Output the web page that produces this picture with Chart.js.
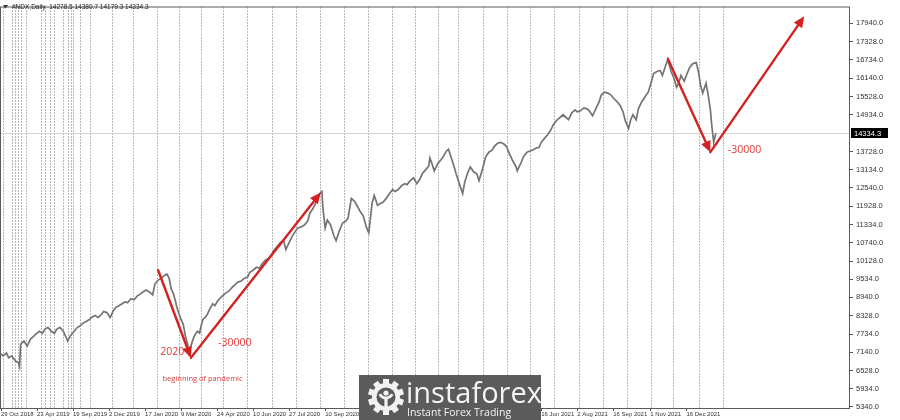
<!DOCTYPE html>
<html>
<head>
<meta charset="utf-8">
<script src="https://cdn.jsdelivr.net/npm/chart.js@4.4.0/dist/chart.umd.min.js"></script>
<style>
  html, body { margin: 0; padding: 0; background: #fff; }
  #wrap { width: 900px; height: 420px; }
</style>
</head>
<body>
<div id="wrap"><canvas id="ndxChart"></canvas></div>
<script>
// #NDX daily, values (bar index / close)
const bars = [0,2,5,7,10,13,16,17,18,21,24,27,29,32,35,38,40,43,46,49,51,54,57,60,61,64,67,70,72,75,78,81,83,86,89,92,94,97,100,103,105,108,111,114,116,119,122,125,128,130,133,136,139,141,144,147,150,152,154,156,158,160,161,163,165,167,169,171,172,174,176,178,180,182,183,185,187,189,191,193,194,196,198,201,204,206,209,212,215,217,220,223,226,228,231,234,237,239,242,245,248,250,253,256,259,261,264,267,270,272,275,278,281,283,286,289,292,294,295,297,299,302,305,307,310,313,316,318,321,324,327,329,332,335,337,339,340,342,345,348,350,353,356,359,361,364,367,370,372,375,378,381,384,386,389,392,393,395,397,400,403,405,408,410,412,415,417,420,423,425,428,430,433,436,438,441,444,447,450,452,455,458,461,463,466,469,472,473,476,479,482,484,487,490,493,495,498,501,504,506,509,512,515,517,520,523,526,528,531,534,537,539,542,545,548,550,553,556,559,561,564,567,570,572,575,577,579,582,584,587,590,593,595,598,601,604,606,609,611,614,617,619,621,623,626,628,631,634,637,639,641,643,646,648,650,651,653,655];
const closes = [7083,7019,7116,6954,7019,6857,6793,6664,7407,7504,7342,7568,7633,7730,7827,7763,7891,7956,7827,7763,7891,7956,7827,7601,7504,7698,7827,7956,7988,8085,8150,8214,8279,8343,8279,8376,8473,8441,8279,8505,8602,8667,8731,8796,8764,8893,8861,8990,9054,9119,9183,9119,9022,9378,9507,9571,9668,9701,9571,9216,9054,8796,8634,8409,8214,8053,7665,7407,7116,7342,7568,7730,7827,7763,7956,8214,8279,8376,8538,8667,8731,8667,8796,8925,9022,9087,9151,9280,9378,9442,9474,9571,9604,9765,9830,9927,9895,10024,10153,10218,10347,10476,10606,10735,10799,10508,10735,10961,11122,11219,11252,11316,11445,11704,11865,12092,12350,12415,11865,11219,11478,11316,10961,10799,11122,11381,11445,11542,12189,12092,11898,11769,11607,11219,11058,11704,12027,12285,11962,12027,12059,12189,12350,12479,12415,12479,12609,12673,12641,12770,12867,12673,12835,12996,13126,13255,13513,13319,13093,13319,13449,13546,13739,13804,13578,13255,12996,12673,12350,12738,13061,13222,13061,12996,12770,13126,13546,13707,13772,13901,13998,14030,13966,13901,13642,13416,13222,13093,13319,13578,13707,13739,13772,13836,13869,14030,14159,14289,14450,14612,14741,14838,14935,14870,14773,15000,15096,15032,15064,15161,15129,15064,14903,15129,15355,15581,15678,15646,15581,15484,15387,15258,15032,14741,14483,14773,14935,14773,15129,15355,15516,15678,15904,16292,16357,16389,16227,16550,16744,16357,16098,15840,15969,16227,16033,16227,16486,16615,16647,16357,15904,15646,15969,15581,15096,14676,14030,14334];
const lastPrice = 14334.3;

const timeTickBars = [0,33,66,99,132,165,198,231,264,297,495,528,561,595,628];
const timeLabels = ['29 Oct 2018','23 Apr 2019','19 Sep 2019','2 Dec 2019','17 Jan 2020','9 Mar 2020','24 Apr 2020','10 Jun 2020','27 Jul 2020','10 Sep 2020','16 Jun 2021','2 Aug 2021','16 Sep 2021','1 Nov 2021','16 Dec 2021'];
const gridBars = [2,10,13,16,18,23,37,40,45,49,57,61,64,66,72,82,102,121,143,163,183,203,225,248,270,292,314,336,358,379,400,419,442,464,485,507,530,552,574,596,616,640,662];
const priceTicks = [5340,5934,6528,7140,7734,8328,8940,9534,10128,10740,11334,11928,12540,13134,13728,14934,15528,16140,16734,17328,17940];

// red arrows drawn on top (bar, price)
const arrowLegs = [
  [[144, 9830], [174, 6954]],
  [[174, 6954], [293, 12382]],
  [[611, 16777], [650, 13707]],
  [[650, 13707], [736, 18166]]
];
const notes = [
  { text: '2020', bar: 146, price: 7150, size: 10.5 },
  { text: '-30000', bar: 199, price: 7439, size: 10.5 },
  { text: 'beginning of pandemic', bar: 148, price: 6276, size: 7.5 },
  { text: '-30000', bar: 666, price: 13772, size: 10.5 }
];

const RED = '#d42222';

const mtDecor = {
  id: 'mtDecor',
  beforeDatasetsDraw(chart) {
    const { ctx, chartArea: a, scales: { x, y } } = chart;
    ctx.save();
    ctx.strokeStyle = '#707070';
    ctx.lineWidth = 1;
    ctx.setLineDash([1, 2]);
    gridBars.forEach(b => {
      const px = Math.round(x.getPixelForValue(b)) + 0.5;
      ctx.beginPath();
      ctx.moveTo(px, a.top);
      ctx.lineTo(px, a.bottom);
      ctx.stroke();
    });
    ctx.setLineDash([]);
    const py = Math.round(y.getPixelForValue(lastPrice)) + 0.5;
    ctx.strokeStyle = '#d6d6d6';
    ctx.beginPath();
    ctx.moveTo(a.left, py);
    ctx.lineTo(a.right, py);
    ctx.stroke();
    ctx.restore();
  },
  afterDatasetsDraw(chart) {
    const { ctx, scales: { x, y } } = chart;
    ctx.save();
    ctx.strokeStyle = RED;
    ctx.fillStyle = RED;
    ctx.lineWidth = 2.4;
    ctx.lineCap = 'round';
    arrowLegs.forEach(([p0, p1]) => {
      const x0 = x.getPixelForValue(p0[0]), y0 = y.getPixelForValue(p0[1]);
      const x1 = x.getPixelForValue(p1[0]), y1 = y.getPixelForValue(p1[1]);
      const ang = Math.atan2(y1 - y0, x1 - x0);
      const head = 11, half = 5;
      const bx = x1 - head * Math.cos(ang), by = y1 - head * Math.sin(ang);
      ctx.beginPath();
      ctx.moveTo(x0, y0);
      ctx.lineTo(bx, by);
      ctx.stroke();
      ctx.beginPath();
      ctx.moveTo(x1, y1);
      ctx.lineTo(bx + half * Math.sin(ang), by - half * Math.cos(ang));
      ctx.lineTo(bx - half * Math.sin(ang), by + half * Math.cos(ang));
      ctx.closePath();
      ctx.fill();
    });
    ctx.fillStyle = '#e03a3a';
    ctx.textBaseline = 'middle';
    ctx.textAlign = 'left';
    notes.forEach(n => {
      ctx.font = n.size + 'px "Open Sans", sans-serif';
      ctx.fillText(n.text, x.getPixelForValue(n.bar), y.getPixelForValue(n.price));
    });
    ctx.restore();
  },
  afterDraw(chart) {
    const { ctx, chartArea: a, scales: { y } } = chart;
    ctx.save();
    // frame
    ctx.strokeStyle = '#5a5a5a';
    ctx.lineWidth = 1;
    ctx.strokeRect(a.left - 0.5, a.top - 0.5, a.right - a.left + 1, a.bottom - a.top + 1);
    // current price box
    const py = Math.round(y.getPixelForValue(lastPrice));
    ctx.fillStyle = '#000';
    ctx.fillRect(a.right + 2, py - 5, 37, 10);
    ctx.fillStyle = '#fff';
    ctx.font = '7.5px "Liberation Sans", Arial, sans-serif';
    ctx.textBaseline = 'middle';
    ctx.textAlign = 'left';
    ctx.fillText(lastPrice.toFixed(1), a.right + 5, py + 0.5);
    // title
    ctx.fillStyle = '#333';
    ctx.beginPath();
    ctx.moveTo(3, 5); ctx.lineTo(8, 5); ctx.lineTo(5.5, 8.5); ctx.closePath(); ctx.fill();
    ctx.fillStyle = '#222';
    ctx.font = '6.5px "Liberation Sans", Arial, sans-serif';
    ctx.fillText('#NDX,Daily  14278.5 14380.7 14179.3 14334.3', 12, 7);
    // watermark
    ctx.fillStyle = '#5b5b5b';
    ctx.fillRect(359, 375, 182, 45);
    const cx = 386, cy = 397;
    ctx.fillStyle = '#f2f2f2';
    for (let i = 0; i < 10; i++) {
      ctx.save();
      ctx.translate(cx, cy);
      ctx.rotate(i * Math.PI / 5);
      ctx.fillRect(-3, -18, 6, 6);
      ctx.restore();
    }
    ctx.beginPath(); ctx.arc(cx, cy, 14, 0, Math.PI * 2); ctx.fill();
    ctx.fillStyle = '#5b5b5b';
    ctx.beginPath(); ctx.arc(cx, cy, 9.5, 0, Math.PI * 2); ctx.fill();
    ctx.fillStyle = '#f2f2f2';
    ctx.beginPath(); ctx.arc(cx, cy - 4, 2.6, 0, Math.PI * 2); ctx.fill();
    ctx.strokeStyle = '#f2f2f2';
    ctx.lineWidth = 3;
    ctx.beginPath(); ctx.arc(cx, cy - 6, 7, 0.15 * Math.PI, 0.85 * Math.PI); ctx.stroke();
    ctx.fillRect(cx - 1.6, cy + 1, 3.2, 10);
    ctx.fillStyle = '#f4f4f4';
    ctx.textBaseline = 'alphabetic';
    ctx.font = '29px "Open Sans", sans-serif';
    ctx.fillText('instaforex', 406, 403);
    ctx.font = '10.5px "Open Sans", sans-serif';
    ctx.fillText('Instant Forex Trading', 407, 416);
    ctx.restore();
  }
};

const data = {
  datasets: [{
    label: '#NDX',
    data: bars.map((b, i) => ({ x: b, y: closes[i] })),
    borderColor: '#747474',
    borderWidth: 1.7,
    pointRadius: 0,
    tension: 0
  }]
};

const config = {
  type: 'line',
  data: data,
  options: {
    responsive: false,
    animation: false,
    layout: { padding: { top: 1, left: 1, right: 0, bottom: 0 } },
    plugins: { legend: { display: false }, tooltip: { enabled: false } },
    scales: {
      x: {
        type: 'linear',
        min: 0,
        max: 777,
        afterBuildTicks: s => { s.ticks = timeTickBars.map(v => ({ value: v })); },
        afterFit: s => { s.height = 12; },
        grid: { drawOnChartArea: false, tickLength: 3, color: '#555' },
        border: { color: '#555' },
        ticks: {
          autoSkip: false,
          maxRotation: 0,
          align: 'start',
          padding: 0,
          color: '#333',
          font: { family: '"Liberation Sans", Arial, sans-serif', size: 6 },
          callback: v => timeLabels[timeTickBars.indexOf(v)]
        }
      },
      y: {
        position: 'right',
        min: 5307,
        max: 18457,
        afterBuildTicks: s => { s.ticks = priceTicks.map(v => ({ value: v })); },
        afterFit: s => { s.width = 51; },
        grid: { drawOnChartArea: false, tickLength: 4, color: '#555' },
        border: { color: '#555' },
        ticks: {
          padding: 3,
          color: '#333',
          font: { family: '"Liberation Sans", Arial, sans-serif', size: 7.5 },
          callback: v => Number(v).toFixed(1)
        }
      }
    }
  },
  plugins: [mtDecor]
};

const canvas = document.getElementById('ndxChart');
canvas.width = 900;
canvas.height = 420;
var ctx = canvas.getContext('2d');
var ndxChart = new Chart(ctx, config);
</script>
</body>
</html>
